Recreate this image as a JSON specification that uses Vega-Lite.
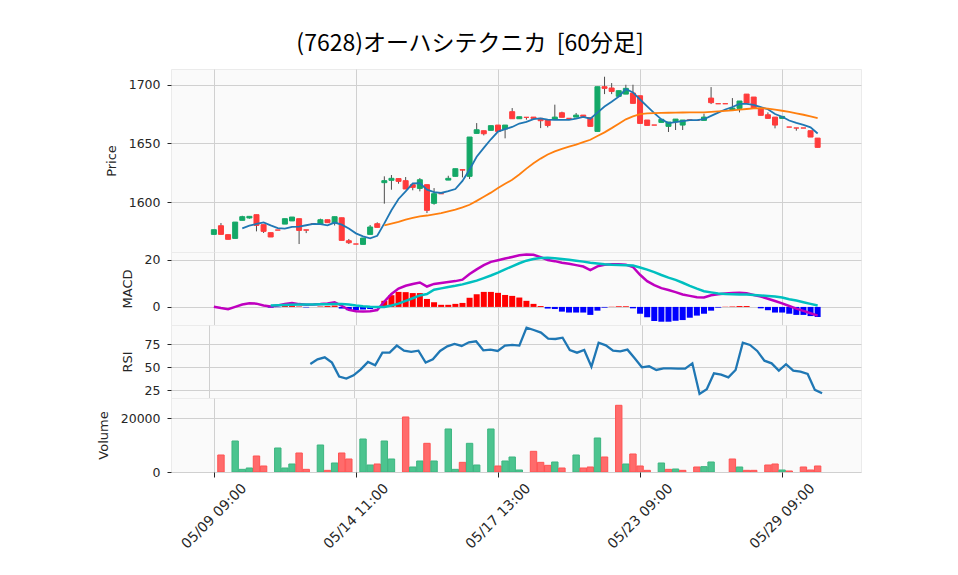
{
  "$schema": "https://vega.github.io/schema/vega-lite/v6.json",
  "background": "white",
  "padding": {"left": 96, "top": 32, "right": 0, "bottom": 0},
  "bounds": "flush",
  "spacing": 0,
  "title": {"text": "(7628)オーハシテクニカ \u00a0[60分足]", "font": "Noto Sans CJK JP", "fontSize": 23, "fontWeight": "normal", "color": "#000000", "anchor": "middle", "offset": 13, "dx": -9},
  "config": {
    "view": {"fill": "#fafafa", "stroke": "#ebebeb"},
    "concat": {"spacing": 0},
    "axis": {"gridColor": "#d0d0d0", "gridWidth": 1, "labelFont": "DejaVu Sans", "labelFontSize": 12.5, "labelColor": "#262626", "titleFont": "DejaVu Sans", "titleFontSize": 13, "titleFontWeight": "normal", "titleColor": "#262626", "tickColor": "#262626", "domain": false, "tickSize": 4, "labelPadding": 7, "titlePadding": 10}
  },
  "datasets": {
    "bars": [
      {"i":0,"o":1572.4,"h":1576.4,"l":1572.4,"c":1576.4,"m5":null,"m25":null,"macd":0.1,"sig":null,"hist":null,"rsi":null,"v":0,"vd":null},
      {"i":1,"o":1579.8,"h":1582.1,"l":1572.4,"c":1572.4,"m5":null,"m25":null,"macd":-0.5,"sig":null,"hist":null,"rsi":null,"v":6334,"vd":"down"},
      {"i":2,"o":1572.2,"h":1572.2,"l":1568.2,"c":1568.2,"m5":null,"m25":null,"macd":-1.0,"sig":null,"hist":null,"rsi":null,"v":0,"vd":null},
      {"i":3,"o":1569.0,"h":1582.9,"l":1569.0,"c":1582.9,"m5":null,"m25":null,"macd":0.0,"sig":null,"hist":null,"rsi":null,"v":11551,"vd":"up"},
      {"i":4,"o":1584.4,"h":1588.3,"l":1584.4,"c":1587.5,"m5":1577.5,"m25":null,"macd":1.0,"sig":null,"hist":null,"rsi":null,"v":994,"vd":"up"},
      {"i":5,"o":1586.4,"h":1587.8,"l":1585.8,"c":1587.8,"m5":1579.8,"m25":null,"macd":1.6,"sig":null,"hist":null,"rsi":null,"v":1490,"vd":"up"},
      {"i":6,"o":1589.2,"h":1589.2,"l":1575.0,"c":1580.1,"m5":1581.3,"m25":null,"macd":1.4,"sig":null,"hist":null,"rsi":null,"v":5962,"vd":"down"},
      {"i":7,"o":1580.7,"h":1580.7,"l":1573.6,"c":1575.0,"m5":1582.7,"m25":null,"macd":0.6,"sig":null,"hist":null,"rsi":null,"v":2236,"vd":"down"},
      {"i":8,"o":1573.9,"h":1573.9,"l":1570.2,"c":1570.2,"m5":1580.1,"m25":null,"macd":0.2,"sig":0.6,"hist":-0.3,"rsi":null,"v":0,"vd":null},
      {"i":9,"o":1576.1,"h":1576.1,"l":1576.1,"c":1576.1,"m5":1577.8,"m25":null,"macd":0.6,"sig":0.7,"hist":-0.1,"rsi":null,"v":8942,"vd":"up"},
      {"i":10,"o":1581.2,"h":1585.8,"l":1581.2,"c":1585.8,"m5":1577.4,"m25":null,"macd":1.3,"sig":0.8,"hist":0.4,"rsi":null,"v":1490,"vd":"up"},
      {"i":11,"o":1583.9,"h":1587.2,"l":1583.9,"c":1587.2,"m5":1578.9,"m25":null,"macd":1.7,"sig":0.9,"hist":0.7,"rsi":null,"v":2981,"vd":"up"},
      {"i":12,"o":1585.8,"h":1585.8,"l":1564.2,"c":1575.8,"m5":1579.0,"m25":null,"macd":1.2,"sig":1.0,"hist":0.2,"rsi":null,"v":7079,"vd":"down"},
      {"i":13,"o":1576.3,"h":1576.3,"l":1573.5,"c":1576.0,"m5":1580.2,"m25":null,"macd":0.9,"sig":1.0,"hist":-0.2,"rsi":null,"v":994,"vd":"down"},
      {"i":14,"o":1581.5,"h":1581.5,"l":1581.5,"c":1581.5,"m5":1581.3,"m25":null,"macd":1.0,"sig":1.0,"hist":0.0,"rsi":53.6,"v":0,"vd":null},
      {"i":15,"o":1581.2,"h":1585.8,"l":1581.2,"c":1584.9,"m5":1581.1,"m25":null,"macd":1.2,"sig":1.1,"hist":0.2,"rsi":58.7,"v":10060,"vd":"up"},
      {"i":16,"o":1584.9,"h":1584.9,"l":1582.4,"c":1582.4,"m5":1580.1,"m25":null,"macd":1.5,"sig":1.1,"hist":0.4,"rsi":60.9,"v":621,"vd":"down"},
      {"i":17,"o":1582.1,"h":1587.5,"l":1580.0,"c":1587.5,"m5":1582.5,"m25":null,"macd":2.0,"sig":1.2,"hist":0.6,"rsi":55.1,"v":3353,"vd":"up"},
      {"i":18,"o":1586.6,"h":1586.6,"l":1567.3,"c":1567.3,"m5":1580.7,"m25":null,"macd":0.5,"sig":1.2,"hist":-0.7,"rsi":39.9,"v":7079,"vd":"down"},
      {"i":19,"o":1567.0,"h":1568.5,"l":1564.2,"c":1565.3,"m5":1577.5,"m25":null,"macd":-1.2,"sig":1.0,"hist":-1.4,"rsi":37.7,"v":4844,"vd":"down"},
      {"i":20,"o":1564.2,"h":1564.2,"l":1564.2,"c":1564.2,"m5":1573.3,"m25":null,"macd":-1.8,"sig":0.6,"hist":-1.4,"rsi":41.3,"v":0,"vd":null},
      {"i":21,"o":1563.9,"h":1569.3,"l":1563.9,"c":1569.3,"m5":1570.7,"m25":null,"macd":-2.0,"sig":0.3,"hist":-1.1,"rsi":47.8,"v":12296,"vd":"up"},
      {"i":22,"o":1572.4,"h":1580.4,"l":1572.4,"c":1578.7,"m5":1569.0,"m25":null,"macd":-1.8,"sig":0.1,"hist":-0.9,"rsi":55.8,"v":2608,"vd":"up"},
      {"i":23,"o":1581.5,"h":1582.7,"l":1578.4,"c":1578.4,"m5":1571.2,"m25":null,"macd":-1.3,"sig":0.0,"hist":-0.5,"rsi":52.2,"v":2981,"vd":"down"},
      {"i":24,"o":1616.5,"h":1621.9,"l":1598.6,"c":1618.2,"m5":1581.8,"m25":1580.1,"macd":2.3,"sig":0.0,"hist":2.6,"rsi":65.9,"v":11551,"vd":"up"},
      {"i":25,"o":1618.5,"h":1623.0,"l":1610.5,"c":1620.2,"m5":1593.0,"m25":1581.5,"macd":5.5,"sig":0.6,"hist":5.0,"rsi":65.9,"v":4844,"vd":"up"},
      {"i":26,"o":1620.0,"h":1620.0,"l":1615.6,"c":1617.6,"m5":1602.6,"m25":1583.0,"macd":7.8,"sig":1.4,"hist":6.4,"rsi":73.6,"v":0,"vd":null},
      {"i":27,"o":1618.2,"h":1621.3,"l":1611.1,"c":1611.1,"m5":1609.1,"m25":1585.0,"macd":9.0,"sig":2.6,"hist":6.3,"rsi":68.1,"v":20493,"vd":"down"},
      {"i":28,"o":1614.8,"h":1614.8,"l":1610.0,"c":1612.5,"m5":1615.9,"m25":1586.5,"macd":9.8,"sig":3.7,"hist":5.9,"rsi":66.7,"v":1863,"vd":"up"},
      {"i":29,"o":1611.6,"h":1620.4,"l":1609.1,"c":1619.0,"m5":1616.1,"m25":1587.8,"macd":10.4,"sig":4.9,"hist":5.9,"rsi":68.1,"v":4099,"vd":"up"},
      {"i":30,"o":1614.8,"h":1614.8,"l":1590.6,"c":1592.9,"m5":1610.6,"m25":1588.5,"macd":8.7,"sig":5.5,"hist":3.4,"rsi":55.1,"v":10681,"vd":"down"},
      {"i":31,"o":1598.9,"h":1611.9,"l":1597.7,"c":1607.1,"m5":1608.5,"m25":1589.5,"macd":9.8,"sig":7.3,"hist":2.0,"rsi":58.7,"v":4099,"vd":"up"},
      {"i":32,"o":1607.1,"h":1607.1,"l":1607.1,"c":1607.1,"m5":1607.7,"m25":1590.6,"macd":10.2,"sig":7.9,"hist":0.9,"rsi":67.8,"v":0,"vd":null},
      {"i":33,"o":1618.7,"h":1622.4,"l":1618.7,"c":1620.2,"m5":1609.3,"m25":1592.0,"macd":10.6,"sig":8.5,"hist":0.9,"rsi":72.8,"v":16022,"vd":"up"},
      {"i":34,"o":1621.9,"h":1628.4,"l":1621.9,"c":1628.4,"m5":1611.1,"m25":1593.5,"macd":11.0,"sig":9.0,"hist":1.3,"rsi":75.4,"v":994,"vd":"up"},
      {"i":35,"o":1627.6,"h":1627.6,"l":1621.0,"c":1627.2,"m5":1618.0,"m25":1595.5,"macd":11.6,"sig":9.6,"hist":1.7,"rsi":73.2,"v":3602,"vd":"down"},
      {"i":36,"o":1621.9,"h":1655.4,"l":1619.6,"c":1655.4,"m5":1627.7,"m25":1597.7,"macd":14.0,"sig":10.4,"hist":3.9,"rsi":77.2,"v":10681,"vd":"up"},
      {"i":37,"o":1658.5,"h":1667.3,"l":1658.5,"c":1661.6,"m5":1638.6,"m25":1601.0,"macd":16.0,"sig":11.2,"hist":5.4,"rsi":78.3,"v":2608,"vd":"up"},
      {"i":38,"o":1660.8,"h":1660.8,"l":1656.8,"c":1658.2,"m5":1646.2,"m25":1604.5,"macd":17.8,"sig":12.3,"hist":6.4,"rsi":68.5,"v":0,"vd":null},
      {"i":39,"o":1661.1,"h":1665.1,"l":1661.1,"c":1665.1,"m5":1653.5,"m25":1608.0,"macd":19.2,"sig":13.4,"hist":6.4,"rsi":69.2,"v":16022,"vd":"up"},
      {"i":40,"o":1665.6,"h":1665.6,"l":1660.2,"c":1660.2,"m5":1660.1,"m25":1611.9,"macd":19.9,"sig":14.6,"hist":6.0,"rsi":67.8,"v":2236,"vd":"down"},
      {"i":41,"o":1662.2,"h":1665.6,"l":1654.3,"c":1665.6,"m5":1662.1,"m25":1615.5,"macd":20.6,"sig":16.0,"hist":5.1,"rsi":73.6,"v":4099,"vd":"up"},
      {"i":42,"o":1677.0,"h":1680.1,"l":1671.0,"c":1671.0,"m5":1664.0,"m25":1619.0,"macd":21.3,"sig":17.3,"hist":4.7,"rsi":74.3,"v":5589,"vd":"up"},
      {"i":43,"o":1671.0,"h":1672.7,"l":1671.0,"c":1672.7,"m5":1666.9,"m25":1623.5,"macd":22.0,"sig":18.6,"hist":4.0,"rsi":73.6,"v":745,"vd":"up"},
      {"i":44,"o":1672.2,"h":1672.2,"l":1670.2,"c":1672.2,"m5":1668.3,"m25":1628.5,"macd":22.3,"sig":19.7,"hist":2.6,"rsi":93.1,"v":0,"vd":null},
      {"i":45,"o":1672.4,"h":1672.4,"l":1671.3,"c":1671.3,"m5":1670.6,"m25":1633.0,"macd":22.2,"sig":20.4,"hist":1.3,"rsi":90.6,"v":7700,"vd":"down"},
      {"i":46,"o":1671.3,"h":1671.3,"l":1663.0,"c":1669.3,"m5":1671.3,"m25":1637.0,"macd":21.2,"sig":20.8,"hist":0.4,"rsi":87.7,"v":3602,"vd":"down"},
      {"i":47,"o":1670.2,"h":1670.2,"l":1663.6,"c":1665.3,"m5":1670.2,"m25":1640.5,"macd":20.0,"sig":20.9,"hist":-0.7,"rsi":81.2,"v":2484,"vd":"down"},
      {"i":48,"o":1670.7,"h":1683.0,"l":1670.7,"c":1672.4,"m5":1670.1,"m25":1643.2,"macd":19.5,"sig":20.7,"hist":-0.9,"rsi":80.8,"v":3726,"vd":"up"},
      {"i":49,"o":1676.1,"h":1677.0,"l":1672.2,"c":1672.2,"m5":1670.1,"m25":1645.3,"macd":18.8,"sig":20.4,"hist":-2.0,"rsi":82.2,"v":1490,"vd":"down"},
      {"i":50,"o":1671.3,"h":1671.3,"l":1671.3,"c":1671.3,"m5":1670.1,"m25":1647.2,"macd":18.4,"sig":20.1,"hist":-2.4,"rsi":68.8,"v":0,"vd":null},
      {"i":51,"o":1672.4,"h":1675.9,"l":1672.4,"c":1674.1,"m5":1671.1,"m25":1648.9,"macd":17.8,"sig":19.7,"hist":-2.4,"rsi":65.9,"v":6334,"vd":"up"},
      {"i":52,"o":1674.1,"h":1674.1,"l":1673.0,"c":1673.0,"m5":1672.6,"m25":1651.0,"macd":17.2,"sig":19.3,"hist":-2.4,"rsi":68.8,"v":1490,"vd":"down"},
      {"i":53,"o":1671.9,"h":1671.9,"l":1664.5,"c":1664.5,"m5":1671.0,"m25":1653.1,"macd":15.7,"sig":18.8,"hist":-3.4,"rsi":50.7,"v":1863,"vd":"down"},
      {"i":54,"o":1660.2,"h":1698.3,"l":1660.2,"c":1698.3,"m5":1676.2,"m25":1656.3,"macd":17.3,"sig":18.5,"hist":-1.6,"rsi":76.8,"v":12668,"vd":"up"},
      {"i":55,"o":1698.3,"h":1706.8,"l":1692.0,"c":1696.9,"m5":1681.4,"m25":1659.4,"macd":18.0,"sig":18.2,"hist":-0.3,"rsi":73.9,"v":5589,"vd":"down"},
      {"i":56,"o":1697.2,"h":1701.4,"l":1692.0,"c":1694.3,"m5":1685.4,"m25":1663.0,"macd":18.2,"sig":18.0,"hist":0.1,"rsi":68.1,"v":0,"vd":null},
      {"i":57,"o":1690.1,"h":1694.9,"l":1690.1,"c":1694.9,"m5":1689.8,"m25":1666.8,"macd":18.2,"sig":17.9,"hist":0.3,"rsi":67.4,"v":24840,"vd":"down"},
      {"i":58,"o":1692.0,"h":1700.0,"l":1692.0,"c":1696.9,"m5":1696.3,"m25":1670.5,"macd":18.0,"sig":17.8,"hist":0.3,"rsi":69.2,"v":2981,"vd":"up"},
      {"i":59,"o":1692.9,"h":1700.0,"l":1684.1,"c":1684.1,"m5":1693.4,"m25":1673.0,"macd":17.0,"sig":17.6,"hist":-0.6,"rsi":59.8,"v":6707,"vd":"down"},
      {"i":60,"o":1690.6,"h":1690.6,"l":1667.0,"c":1667.0,"m5":1687.4,"m25":1675.0,"macd":13.7,"sig":16.8,"hist":-2.9,"rsi":50.0,"v":2236,"vd":"down"},
      {"i":61,"o":1669.9,"h":1669.9,"l":1665.3,"c":1665.3,"m5":1681.6,"m25":1675.5,"macd":11.0,"sig":15.9,"hist":-4.4,"rsi":51.1,"v":621,"vd":"down"},
      {"i":62,"o":1665.6,"h":1665.6,"l":1665.6,"c":1665.6,"m5":1675.8,"m25":1675.8,"macd":9.3,"sig":14.8,"hist":-6.0,"rsi":47.1,"v":0,"vd":null},
      {"i":63,"o":1667.9,"h":1670.5,"l":1667.9,"c":1670.5,"m5":1670.5,"m25":1676.0,"macd":8.0,"sig":13.6,"hist":-6.3,"rsi":48.9,"v":3353,"vd":"up"},
      {"i":64,"o":1664.5,"h":1668.2,"l":1659.7,"c":1668.2,"m5":1667.3,"m25":1676.1,"macd":7.2,"sig":12.5,"hist":-6.3,"rsi":48.9,"v":994,"vd":"down"},
      {"i":65,"o":1668.5,"h":1670.7,"l":1661.4,"c":1670.7,"m5":1668.1,"m25":1676.2,"macd":6.3,"sig":11.5,"hist":-5.9,"rsi":48.6,"v":1118,"vd":"up"},
      {"i":66,"o":1665.6,"h":1669.9,"l":1661.4,"c":1669.9,"m5":1669.0,"m25":1676.3,"macd":5.3,"sig":10.3,"hist":-5.6,"rsi":48.6,"v":621,"vd":"down"},
      {"i":67,"o":1670.0,"h":1670.0,"l":1670.0,"c":1670.0,"m5":1669.9,"m25":1676.4,"macd":4.7,"sig":9.0,"hist":-4.6,"rsi":54.3,"v":0,"vd":null},
      {"i":68,"o":1669.5,"h":1669.5,"l":1669.5,"c":1669.5,"m5":1669.8,"m25":1676.4,"macd":4.1,"sig":7.8,"hist":-3.7,"rsi":21.0,"v":1863,"vd":"down"},
      {"i":69,"o":1669.6,"h":1675.3,"l":1669.6,"c":1672.4,"m5":1670.6,"m25":1676.5,"macd":4.0,"sig":6.7,"hist":-2.9,"rsi":26.1,"v":1987,"vd":"up"},
      {"i":70,"o":1688.6,"h":1698.0,"l":1683.5,"c":1684.7,"m5":1673.4,"m25":1676.8,"macd":5.0,"sig":6.2,"hist":-1.6,"rsi":43.5,"v":3726,"vd":"up"},
      {"i":71,"o":1683.8,"h":1683.8,"l":1683.8,"c":1683.8,"m5":1676.2,"m25":1677.2,"macd":5.4,"sig":5.7,"hist":-0.3,"rsi":42.0,"v":0,"vd":null},
      {"i":72,"o":1683.8,"h":1683.8,"l":1683.8,"c":1683.8,"m5":1678.9,"m25":1677.7,"macd":5.7,"sig":5.5,"hist":0.1,"rsi":39.1,"v":0,"vd":null},
      {"i":73,"o":1678.4,"h":1688.6,"l":1678.4,"c":1680.1,"m5":1681.0,"m25":1678.2,"macd":5.9,"sig":5.4,"hist":0.2,"rsi":47.1,"v":4844,"vd":"down"},
      {"i":74,"o":1679.8,"h":1686.1,"l":1676.4,"c":1686.1,"m5":1683.7,"m25":1678.7,"macd":6.0,"sig":5.3,"hist":0.4,"rsi":76.8,"v":1863,"vd":"up"},
      {"i":75,"o":1692.0,"h":1692.0,"l":1684.4,"c":1684.4,"m5":1683.6,"m25":1679.3,"macd":5.8,"sig":5.3,"hist":0.4,"rsi":74.3,"v":621,"vd":"down"},
      {"i":76,"o":1689.5,"h":1689.5,"l":1679.8,"c":1679.8,"m5":1682.8,"m25":1679.8,"macd":5.1,"sig":5.1,"hist":0.0,"rsi":67.8,"v":621,"vd":"down"},
      {"i":77,"o":1679.5,"h":1679.5,"l":1673.9,"c":1673.9,"m5":1680.9,"m25":1680.1,"macd":4.4,"sig":4.9,"hist":-0.6,"rsi":57.2,"v":0,"vd":null},
      {"i":78,"o":1674.4,"h":1676.4,"l":1671.3,"c":1671.3,"m5":1679.1,"m25":1679.6,"macd":3.5,"sig":4.7,"hist":-1.4,"rsi":54.3,"v":2608,"vd":"down"},
      {"i":79,"o":1672.4,"h":1672.4,"l":1662.8,"c":1665.6,"m5":1675.0,"m25":1678.7,"macd":2.5,"sig":4.4,"hist":-2.4,"rsi":46.4,"v":2981,"vd":"down"},
      {"i":80,"o":1671.3,"h":1673.0,"l":1671.3,"c":1673.0,"m5":1672.7,"m25":1677.8,"macd":1.5,"sig":4.0,"hist":-2.4,"rsi":53.3,"v":745,"vd":"up"},
      {"i":81,"o":1663.9,"h":1663.9,"l":1663.9,"c":1663.9,"m5":1669.5,"m25":1676.8,"macd":0.4,"sig":3.3,"hist":-2.9,"rsi":46.4,"v":373,"vd":"down"},
      {"i":82,"o":1663.1,"h":1663.1,"l":1660.8,"c":1663.1,"m5":1667.4,"m25":1675.6,"macd":-0.7,"sig":2.7,"hist":-3.4,"rsi":45.3,"v":0,"vd":null},
      {"i":83,"o":1663.1,"h":1663.1,"l":1663.1,"c":1663.1,"m5":1665.7,"m25":1674.4,"macd":-1.7,"sig":2.0,"hist":-3.4,"rsi":42.8,"v":1863,"vd":"down"},
      {"i":84,"o":1660.8,"h":1660.8,"l":1655.4,"c":1655.4,"m5":1663.7,"m25":1673.0,"macd":-2.7,"sig":1.3,"hist":-3.9,"rsi":25.4,"v":745,"vd":"down"},
      {"i":85,"o":1654.5,"h":1654.5,"l":1646.6,"c":1646.6,"m5":1658.4,"m25":1671.6,"macd":-3.7,"sig":0.6,"hist":-4.3,"rsi":21.7,"v":2236,"vd":"down"}
    ]
  },
  "vconcat": [
    {
      "width": 690, "height": 183,
      "data": {"name": "bars"},
      "encoding": {
        "x": {"field": "i", "type": "quantitative", "scale": {"domain": [-5.33, 90.4], "nice": false, "zero": false}, "axis": {"values": [0, 20, 40, 60, 80], "labels": false, "ticks": false, "title": null, "grid": true}}
      },
      "layer": [
        {"mark": {"type": "rule", "color": "#4d4d4d", "strokeWidth": 1, "clip": true},
         "encoding": {"y": {"field": "l", "type": "quantitative", "scale": {"domain": [1557.4, 1713.4], "nice": false, "zero": false}, "axis": {"values": [1600, 1650, 1700], "format": "d", "grid": true}, "title": "Price"}, "y2": {"field": "h"}}},
        {"mark": {"type": "bar", "size": 5, "strokeWidth": 1, "clip": true},
         "encoding": {"y": {"field": "o", "type": "quantitative", "scale": {"domain": [1557.4, 1713.4], "nice": false, "zero": false}, "axis": {"values": [1600, 1650, 1700], "format": "d", "grid": true}, "title": "Price"}, "y2": {"field": "c"},
           "color": {"condition": {"test": "datum.c > datum.o", "value": "#13a867"}, "value": "#ff3b3b"},
           "stroke": {"condition": {"test": "datum.c > datum.o", "value": "#13a867"}, "value": "#ff3b3b"}}},
        {"mark": {"type": "line", "color": "#1f77b4", "strokeWidth": 1.8, "clip": true},
         "encoding": {"y": {"field": "m5", "type": "quantitative", "scale": {"domain": [1557.4, 1713.4], "nice": false, "zero": false}, "axis": {"values": [1600, 1650, 1700], "format": "d", "grid": true}, "title": "Price"}}},
        {"mark": {"type": "line", "color": "#ff7f0e", "strokeWidth": 1.8, "clip": true},
         "encoding": {"y": {"field": "m25", "type": "quantitative", "scale": {"domain": [1557.4, 1713.4], "nice": false, "zero": false}, "axis": {"values": [1600, 1650, 1700], "format": "d", "grid": true}, "title": "Price"}}}
      ]
    },
    {
      "width": 690, "height": 73,
      "data": {"name": "bars"},
      "encoding": {
        "x": {"field": "i", "type": "quantitative", "scale": {"domain": [-5.33, 90.4], "nice": false, "zero": false}, "axis": {"values": [0, 20, 40, 60, 80], "labels": false, "ticks": false, "title": null, "grid": true}}
      },
      "layer": [
        {"mark": {"type": "bar", "size": 6, "clip": true},
         "encoding": {"y": {"field": "hist", "type": "quantitative", "scale": {"domain": [-7.7, 23.4], "nice": false, "zero": false}, "axis": {"values": [0, 20], "grid": true}, "title": "MACD"}, "y2": {"datum": 0},
           "color": {"condition": {"test": "datum.hist >= 0", "value": "#ff0000"}, "value": "#0000ff"}}},
        {"mark": {"type": "line", "color": "#bf00bf", "strokeWidth": 2.5, "clip": true},
         "encoding": {"y": {"field": "macd", "type": "quantitative", "scale": {"domain": [-7.7, 23.4], "nice": false, "zero": false}, "axis": {"values": [0, 20], "grid": true}, "title": "MACD"}}},
        {"mark": {"type": "line", "color": "#00bfbf", "strokeWidth": 2.5, "clip": true},
         "encoding": {"y": {"field": "sig", "type": "quantitative", "scale": {"domain": [-7.7, 23.4], "nice": false, "zero": false}, "axis": {"values": [0, 20], "grid": true}, "title": "MACD"}}}
      ]
    },
    {
      "width": 690, "height": 73,
      "data": {"name": "bars"},
      "encoding": {
        "x": {"field": "i", "type": "quantitative", "scale": {"domain": [-5.33, 90.4], "nice": false, "zero": false}, "axis": {"values": [0, 20, 40, 60, 80], "labels": false, "ticks": false, "title": null, "grid": true}}
      },
      "layer": [
        {"mark": {"type": "line", "color": "#1f77b4", "strokeWidth": 2.3, "clip": true},
         "encoding": {"y": {"field": "rsi", "type": "quantitative", "scale": {"domain": [16.6, 96.0], "nice": false, "zero": false}, "axis": {"values": [25, 50, 75], "grid": true}, "title": "RSI"}}}
      ]
    },
    {
      "width": 690, "height": 74,
      "data": {"name": "bars"},
      "encoding": {
        "x": {"field": "i", "type": "quantitative", "scale": {"domain": [-5.33, 90.4], "nice": false, "zero": false}, "axis": {"values": [0, 20, 40, 60, 80], "labelExpr": "datum.value == 0 ? '05/09 09:00' : datum.value == 20 ? '05/14 11:00' : datum.value == 40 ? '05/17 13:00' : datum.value == 60 ? '05/23 09:00' : '05/29 09:00'", "labelAngle": -45, "labelAlign": "center", "labelBaseline": "middle", "labelPadding": 39, "tickSize": 5, "title": null, "grid": true, "labelFontSize": 14}}
      },
      "layer": [
        {"mark": {"type": "bar", "size": 6.4, "strokeWidth": 1, "clip": true},
         "encoding": {
           "y": {"field": "v", "type": "quantitative", "scale": {"domain": [0, 27560], "nice": false, "zero": false}, "axis": {"values": [0, 20000], "format": "d", "grid": true}, "title": "Volume"},
           "color": {"field": "vd", "type": "nominal", "scale": {"domain": ["up", "down"], "range": ["#4cc48f", "#ff6b6b"]}, "legend": null},
           "stroke": {"field": "vd", "type": "nominal", "scale": {"domain": ["up", "down"], "range": ["#3db581", "#ff5252"]}, "legend": null}}}
      ]
    }
  ]
}
